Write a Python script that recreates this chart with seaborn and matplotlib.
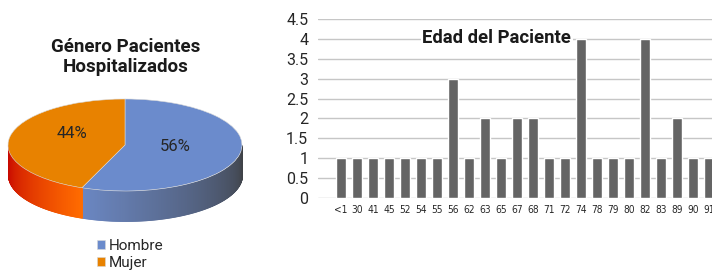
import numpy as np
import matplotlib.pyplot as plt
import matplotlib.colors as mcolors
import seaborn as sns
import pandas as pd

# datos
generos = ['Hombre', 'Mujer']
porcentajes = [56, 44]
edades = ['<1', '30', '41', '45', '52', '54', '55', '56', '62', '63', '65', '67',
          '68', '71', '72', '74', '78', '79', '80', '82', '83', '89', '90', '91']
conteo = [1, 1, 1, 1, 1, 1, 1, 3, 1, 2, 1, 2, 2, 1, 1, 4, 1, 1, 1, 4, 1, 2, 1, 1]

sns.set_style('white')
plt.rcParams['font.family'] = ['Roboto', 'DejaVu Sans']

W, H = 712, 273
fig = plt.figure(figsize=(W / 100, H / 100), dpi=100)

# ---------- grafico de barras ----------
ax = fig.add_axes([318 / W, (H - 198) / H, (W - 318) / W, 179 / H])
df = pd.DataFrame({'edad': edades, 'n': conteo})
sns.barplot(data=df, x='edad', y='n', order=edades, color='#646464',
            width=0.6, saturation=1, ax=ax, zorder=3)
ax.set_xlim(-1.44, 23.2)
ax.set_ylim(0, 4.5)
ax.set_yticks(np.arange(0, 4.51, 0.5))
ax.set_yticklabels(['0', '0.5', '1', '1.5', '2', '2.5', '3', '3.5', '4', '4.5'])
ax.yaxis.grid(True, color='#c6c6c6', lw=1, zorder=0)
ax.set_axisbelow(True)
for s in ax.spines.values():
    s.set_visible(False)
ax.set_xlabel('')
ax.set_ylabel('')
ax.tick_params(axis='y', length=0, pad=7, labelsize=11.5, labelcolor='#262626')
ax.tick_params(axis='x', length=0, pad=5, labelcolor='#262626')
for t in ax.get_xticklabels():
    t.set_fontfamily(['DejaVu Sans'])
    t.set_fontstretch('condensed')
    t.set_fontsize(7.3)
ax.text(0.454, 0.895, 'Edad del Paciente', transform=ax.transAxes,
        ha='center', va='center', fontsize=13.3, fontweight='bold', color='#1a1a1a',
        bbox=dict(facecolor='white', edgecolor='none', pad=1), zorder=5)

# ---------- grafico de pastel 3D ----------
cx, cy, rx, ry, prof = 125, 145, 117, 46, 30
top, bot, left, right = 80, 240, 0, 262
pa = fig.add_axes([left / W, (H - bot) / H, (right - left) / W, (bot - top) / H])
colores = ['#6b8bcc', '#e88200']
lados = [('#6b87c3', '#3f4247'), ('#c30000', '#ff6c00')]

frac = np.array(porcentajes) / sum(porcentajes)
limites = 90 - 360 * np.concatenate([[0], np.cumsum(frac)])
d = prof / ry
for i in range(len(generos)):
    a0, a1 = np.radians(limites[i + 1]), np.radians(limites[i])
    # parte frontal (sin < 0)
    angs = np.linspace(a0, a1, 400)
    angs = angs[np.sin(angs) <= 0]
    if len(angs) < 2:
        continue
    xs = np.sort(np.cos(angs))
    c0, c1 = mcolors.to_rgb(lados[i][0]), mcolors.to_rgb(lados[i][1])
    for j in range(len(xs) - 1):
        t = j / max(len(xs) - 2, 1)
        col = tuple(c0[k] + (c1[k] - c0[k]) * t for k in range(3))
        xx = xs[j:j + 2]
        yt = -np.sqrt(np.clip(1 - xx ** 2, 0, 1))
        pa.fill_between(xx, yt, yt - d, color=col, lw=0.6, ec=col, zorder=1)

wedges, _, auto = pa.pie(porcentajes, colors=colores, startangle=90, counterclock=False,
                         autopct='%1.0f%%', pctdistance=0.45,
                         wedgeprops=dict(lw=0.4, ec='#d8d8d8'),
                         textprops=dict(fontsize=12, color='#262626'))
for w in wedges:
    w.set_zorder(2)
auto[0].set_position((0.43, -0.04))
auto[1].set_position((-0.45, 0.26))
for a in auto:
    a.set_zorder(4)
pa.set_aspect('auto')
pa.set_xlim((left - cx) / rx, (right - cx) / rx)
pa.set_ylim((cy - bot) / ry, (cy - top) / ry)
pa.axis('off')

fig.text(126 / W, 1 - 57 / H, 'Género Pacientes\nHospitalizados', ha='center', va='center',
         fontsize=13.5, fontweight='bold', color='#1a1a1a', linespacing=1.15)

fig.legend(wedges, generos, loc='upper left', bbox_to_anchor=(97 / W, 1 - 239 / H),
           frameon=False, handlelength=0.55, handleheight=0.55, handletextpad=0.25,
           labelspacing=0.2, fontsize=11, borderpad=0, borderaxespad=0)

fig.savefig('out.png', dpi=100)
